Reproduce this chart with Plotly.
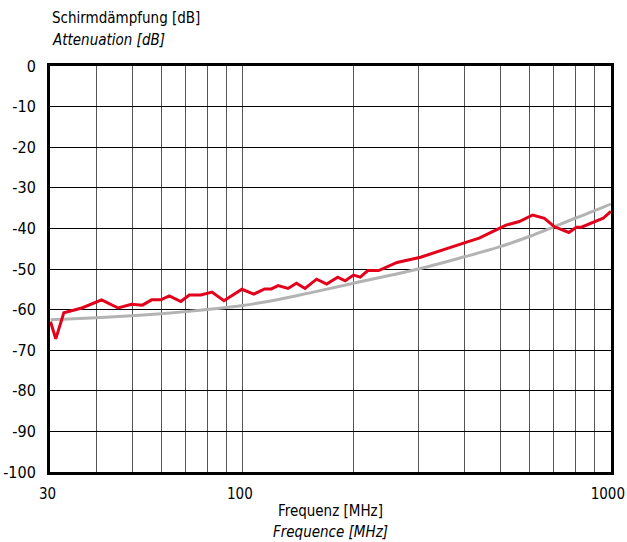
import math
import plotly.graph_objects as go

# Data
red_freq = [30, 31, 32.6, 36.5, 41.3, 45.8, 49.8, 53.3, 56.5, 59.8, 63.1, 67.8, 71.5, 76.9,
            82.4, 88.8, 99.4, 107, 114.6, 119.5, 124.6, 132.6, 139.8, 147.5, 158.6, 168.9,
            181, 189.7, 199.8, 208.4, 218.6, 233.8, 262.4, 304, 407.5, 438.7, 476.9, 518.8,
            564, 613, 660, 703, 769, 806, 832, 894, 953, 1000]
red_att = [-63.0, -67.2, -60.8, -59.6, -57.6, -59.6, -58.7, -58.9, -57.6, -57.6, -56.6, -58.0,
           -56.4, -56.4, -55.7, -57.8, -55.0, -56.2, -54.9, -54.9, -54.1, -54.8, -53.5, -54.8,
           -52.5, -53.7, -52.0, -52.9, -51.5, -52.0, -50.4, -50.4, -48.4, -47.1, -43.3, -42.4,
           -40.8, -39.2, -38.3, -36.7, -37.5, -39.6, -41.0, -39.7, -39.7, -38.6, -37.5, -35.8]

gray_freq = [30, 40, 50, 60, 70, 80, 100, 125, 150, 200, 300, 400, 500, 600, 700, 800, 900, 1000]
gray_att = [-62.5, -62.0, -61.5, -61.0, -60.5, -60.0, -59.0, -57.5, -56.0, -53.5, -50.0, -47.0,
            -44.5, -42.0, -39.6, -37.5, -35.7, -34.0]

x_tickvals = [30, 40, 50, 60, 70, 80, 90, 100, 200, 300, 400, 500, 600, 700, 800, 900, 1000]
x_ticktext = ["30", "", "", "", "", "", "", "100", "", "", "", "", "", "", "", "", "1000"]
y_tickvals = [0, -10, -20, -30, -40, -50, -60, -70, -80, -90, -100]
y_ticktext = ["0", "-10", "-20", "-30", "-40", "-50", "-60", "-70", "-80", "-90", "-100"]

FONT = "DejaVu Sans Condensed, Liberation Sans Narrow, Roboto, sans-serif"

fig = go.Figure()
fig.add_trace(go.Scatter(x=gray_freq, y=gray_att, mode="lines",
                         line=dict(color="#b3b3b3", width=3, shape="spline"),
                         hoverinfo="skip", showlegend=False))
fig.add_trace(go.Scatter(x=red_freq, y=red_att, mode="lines",
                         line=dict(color="#e3001b", width=3),
                         showlegend=False))

fig.update_xaxes(type="log", range=[math.log10(29.9), math.log10(1001)],
                 tickvals=x_tickvals, ticktext=x_ticktext,
                 showgrid=True, gridcolor="#555555", gridwidth=1,
                 showline=True, linecolor="black", linewidth=3, mirror=True,
                 ticks="", ticklabelstandoff=6, ticklabelshift=-3, automargin=False,
                 ticklabeloverflow="allow",
                 tickfont=dict(family=FONT, size=15, color="black"),
                 zeroline=False)
fig.update_yaxes(range=[-100, 0], tickvals=y_tickvals, ticktext=y_ticktext,
                 showgrid=True, gridcolor="black", gridwidth=1,
                 showline=True, linecolor="black", linewidth=3, mirror=True,
                 ticks="", ticklabelstandoff=8, automargin=False,
                 ticklabeloverflow="allow",
                 tickfont=dict(family=FONT, size=16, color="black"),
                 zeroline=False)

fig.update_layout(
    width=627, height=542,
    margin=dict(l=50, r=16, t=66, b=70),
    paper_bgcolor="white", plot_bgcolor="white",
    font=dict(family=FONT, color="black"),
)
TS = 15
fig.add_annotation(text="Schirmdämpfung [dB]", xref="paper", yref="paper",
                   x=0.0, y=1.0, yshift=48, xanchor="left", yanchor="middle",
                   showarrow=False, font=dict(family=FONT, size=TS))
fig.add_annotation(text="<i>Attenuation [dB]</i>", xref="paper", yref="paper",
                   x=0.0, y=1.0, yshift=26, xanchor="left", yanchor="middle",
                   showarrow=False, font=dict(family=FONT, size=TS))
fig.add_annotation(text="Frequenz [MHz]", xref="paper", yref="paper",
                   x=0.5, y=0.0, yshift=-39, xanchor="center", yanchor="middle",
                   showarrow=False, font=dict(family=FONT, size=TS))
fig.add_annotation(text="<i>Frequence [MHz]</i>", xref="paper", yref="paper",
                   x=0.5, y=0.0, yshift=-60, xanchor="center", yanchor="middle",
                   showarrow=False, font=dict(family=FONT, size=TS))

fig.write_html("out.html", config={"displayModeBar": False},
               post_script="document.body.style.margin='0';document.body.style.overflow='hidden';")
